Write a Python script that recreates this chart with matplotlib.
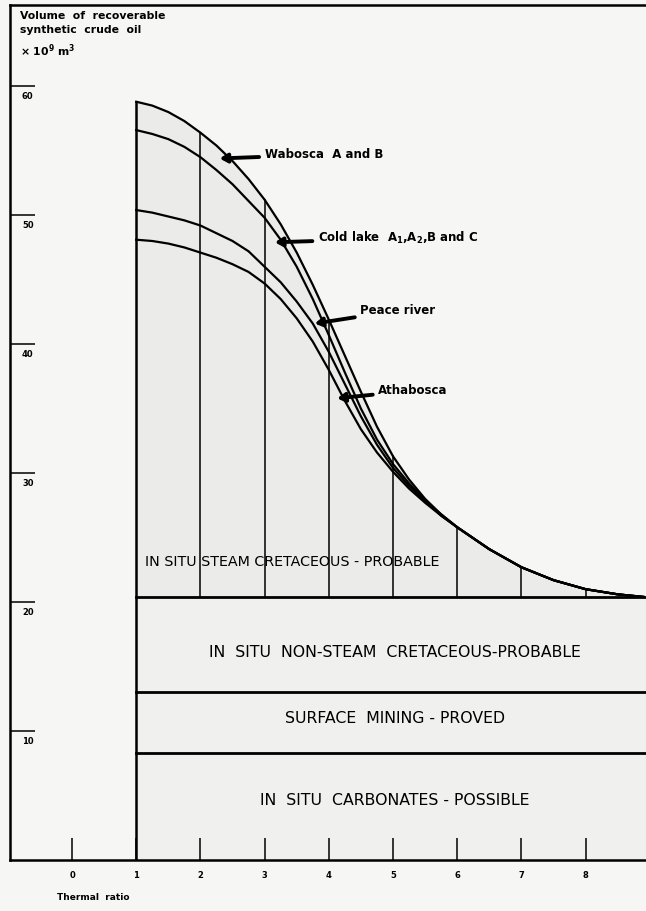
import matplotlib.pyplot as plt
import numpy as np

# thermal ratio sample points and curve values (x 10^9 m3)
thermal = [1.0, 1.25, 1.5, 1.75, 2.0, 2.25, 2.5, 2.75, 3.0, 3.25, 3.5, 3.75, 4.0, 4.25,
           4.5, 4.75, 5.0, 5.25, 5.5, 5.75, 6.0, 6.5, 7.0, 7.5, 8.0, 8.5, 8.9]
wabosca = [58.8, 58.5, 58.0, 57.3, 56.4, 55.4, 54.2, 52.8, 51.2, 49.3, 47.1, 44.6, 41.9, 39.1,
           36.3, 33.6, 31.3, 29.5, 28.0, 26.8, 25.8, 24.1, 22.7, 21.7, 21.0, 20.6, 20.4]
cold_lake = [56.6, 56.3, 55.9, 55.3, 54.5, 53.5, 52.4, 51.1, 49.8, 48.1, 46.0, 43.5, 40.7, 37.8,
             35.0, 32.6, 30.7, 29.2, 27.9, 26.7, 25.8, 24.1, 22.7, 21.7, 21.0, 20.6, 20.4]
peace_river = [50.4, 50.2, 49.9, 49.6, 49.2, 48.6, 48.0, 47.2, 46.0, 44.8, 43.3, 41.6, 39.4, 36.9,
               34.4, 32.2, 30.4, 29.0, 27.8, 26.8, 25.8, 24.1, 22.7, 21.7, 21.0, 20.6, 20.4]
athabasca = [48.1, 48.0, 47.8, 47.5, 47.1, 46.7, 46.2, 45.6, 44.7, 43.5, 42.0, 40.2, 38.0, 35.6,
             33.4, 31.6, 30.1, 28.8, 27.7, 26.7, 25.8, 24.1, 22.7, 21.7, 21.0, 20.6, 20.4]

# stacked band tops
band_tops = [8.3, 13.0, 20.4]
band_labels = ["IN  SITU  CARBONATES - POSSIBLE", "SURFACE  MINING - PROVED",
               "IN  SITU  NON-STEAM  CRETACEOUS-PROBABLE"]
steam_label = "IN SITU STEAM CRETACEOUS - PROBABLE"

xticks = [0, 1, 2, 3, 4, 5, 6, 7, 8]
yticks = [10, 20, 30, 40, 50, 60]

curve_labels = ["Wabosca  A and B", "Cold lake  A$_\\mathbf{1}$,A$_\\mathbf{2}$,B and C",
                "Peace river", "Athabosca"]
curve_sets = [wabosca, cold_lake, peace_river, athabasca]

plt.rcParams['font.family'] = ['DejaVu Sans']
plt.rcParams['mathtext.default'] = 'bf'
paper = '#f6f6f4'
fig = plt.figure(figsize=(6.46, 9.11), dpi=100, facecolor=paper)
ax = fig.add_axes([10/646, 51/911, 636/646, 855/911])
ax.set_facecolor(paper)
xmin, xmax = -0.966, 8.94
ax.set_xlim(xmin, xmax)
ax.set_ylim(0, 66.3)

for s in ['left', 'bottom', 'top']:
    ax.spines[s].set_linewidth(1.8)
ax.spines['right'].set_visible(False)

# shading of the steam region
ax.fill_between(thermal, band_tops[-1], wabosca, color='#ebebea', zorder=1)
ax.fill_between([1, xmax], 0, band_tops[-1], color='#f0f0ee', zorder=0)

# curves
for vals in curve_sets:
    ax.plot(thermal, vals, color='black', lw=1.6, zorder=3, solid_joinstyle='round')

# band lines
for top in band_tops:
    ax.plot([1, xmax], [top, top], color='black', lw=2.0, zorder=3)

# vertical lines from band top to the upper curve
for t in xticks[2:]:
    ax.plot([t, t], [band_tops[-1], np.interp(t, thermal, wabosca)], color='black', lw=1.1, zorder=2)
ax.plot([1, 1], [0, wabosca[0]], color='black', lw=1.8, zorder=3)

# ticks
ax.set_xticks(xticks)
ax.set_xticklabels([str(t) for t in xticks], fontsize=6, fontweight='bold')
ax.tick_params(axis='x', direction='in', length=16, width=1.1, pad=8)
ax.set_yticks(yticks)
ax.set_yticklabels([])
ax.tick_params(axis='y', direction='in', length=18, width=1.1)
for v in yticks:
    ax.text(0.028, v - 0.8, str(v), transform=ax.get_yaxis_transform(),
            ha='center', va='center', fontsize=6, fontweight='bold')

ax.text(-0.23, -2.87, "Thermal  ratio", fontsize=6.5, fontweight='bold', va='center')
ax.text(0.015, 0.993, "Volume  of  recoverable\nsynthetic  crude  oil\n\u00d7 10$^9$ m$^3$",
        transform=ax.transAxes, fontsize=7.8, fontweight='bold', va='top', ha='left',
        linespacing=1.55)

# band labels
band_mid = [4.65, 11.0, 16.1]
for lab, y in zip(band_labels, band_mid):
    ax.text(5.03, y, lab, ha='center', va='center', fontsize=11.3)
ax.text(1.14, 23.1, steam_label, ha='left', va='center', fontsize=10.3)

# curve labels with arrows
label_pos = [(3.0, 54.7), (3.83, 48.2), (4.49, 42.6), (4.77, 36.4)]
tip_pos = [(2.3, 54.4), (3.16, 47.9), (3.78, 41.6), (4.13, 35.8)]
for lab, (tx, ty), (px, py) in zip(curve_labels, label_pos, tip_pos):
    ax.annotate(lab, xy=(px, py), xytext=(tx, ty), fontsize=8.5, fontweight='bold',
                va='center', ha='left',
                arrowprops=dict(arrowstyle='-|>,head_length=0.5,head_width=0.3',
                                lw=2.8, color='black', shrinkA=2, shrinkB=0))

fig.savefig('out.png', dpi=100, facecolor=paper)
